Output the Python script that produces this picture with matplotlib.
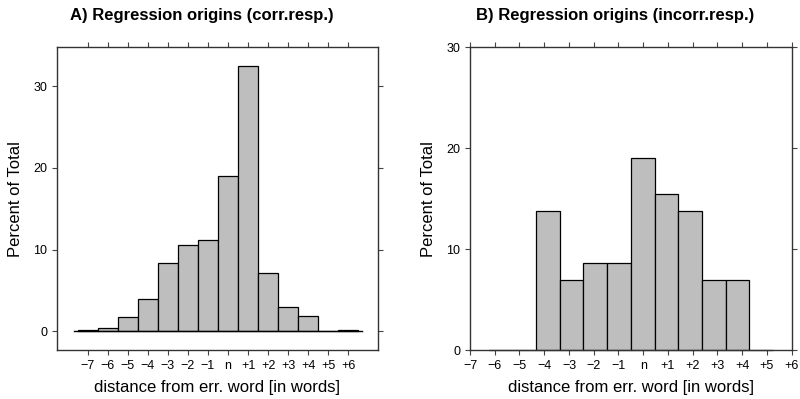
import numpy as np
import matplotlib.pyplot as plt

plt.rcParams['font.family'] = ['Liberation Sans', 'DejaVu Sans']

# tick labels shared by both panels
offsets = list(range(-7, 7))
offset_labels = ['\u22127', '\u22126', '\u22125', '\u22124', '\u22123', '\u22122', '\u22121',
                 'n', '+1', '+2', '+3', '+4', '+5', '+6']

# A) correct responses, one bar per offset -7..+6 (percent of total)
pct_corr = [0.2, 0.35, 1.75, 4.0, 8.4, 10.6, 11.2, 19.0, 32.5, 7.15, 3.0, 1.9, 0.0, 0.2]

# B) incorrect responses, 12 bins (percent of total)
pct_incorr = [0.0, 0.0, 13.8, 6.9, 8.6, 8.6, 19.0, 15.5, 13.8, 6.9, 6.9, 0.0]

fill = '#bebebe'
frame = '#333333'

fig = plt.figure(figsize=(8, 3.99), dpi=100)
axA = fig.add_axes([0.0716, 0.1228, 0.4005, 0.7586])
axB = fig.add_axes([0.5875, 0.1228, 0.4021, 0.7586])

# panel A
axA.bar(offsets, pct_corr, width=1.0, color=fill, edgecolor='black', linewidth=0.9, zorder=2)
axA.plot([offsets[0] - 0.7, offsets[-1] + 0.7], [0, 0], color='black', lw=1.0, zorder=3)
axA.set_xlim(-8.52, 7.47)
axA.set_ylim(-2.28, 34.74)
axA.set_yticks([0, 10, 20, 30])

# panel B: bins from -6.25 to 5.25
edges = np.linspace(-6.25, 5.25, len(pct_incorr) + 1)
axB.bar(edges[:-1], pct_incorr, width=np.diff(edges), align='edge',
        color=fill, edgecolor='black', linewidth=0.9, zorder=2, clip_on=False)
axB.set_xlim(-7, 6)
axB.set_ylim(0, 30)
axB.set_yticks([0, 10, 20, 30])

for ax in (axA, axB):
    ax.set_xticks(offsets)
    ax.set_xticklabels(offset_labels)
    ax.tick_params(axis='both', which='both', direction='out', length=3.6, width=0.8,
                   color='#444444', labelsize=9, pad=3.5,
                   top=True, right=True, labeltop=False, labelright=False)
    for sp in ax.spines.values():
        sp.set_color(frame)
        sp.set_linewidth(1.0)
    ax.set_ylabel('Percent of Total', fontsize=12, labelpad=7.5)
    ax.set_xlabel('distance from err. word [in words]', fontsize=12, labelpad=6)

fig.text(0.252, 0.962, 'A) Regression origins (corr.resp.)', ha='center', va='center',
         fontsize=12, fontweight='bold')
fig.text(0.769, 0.962, 'B) Regression origins (incorr.resp.)', ha='center', va='center',
         fontsize=12, fontweight='bold')

fig.savefig('out.png', dpi=100)
